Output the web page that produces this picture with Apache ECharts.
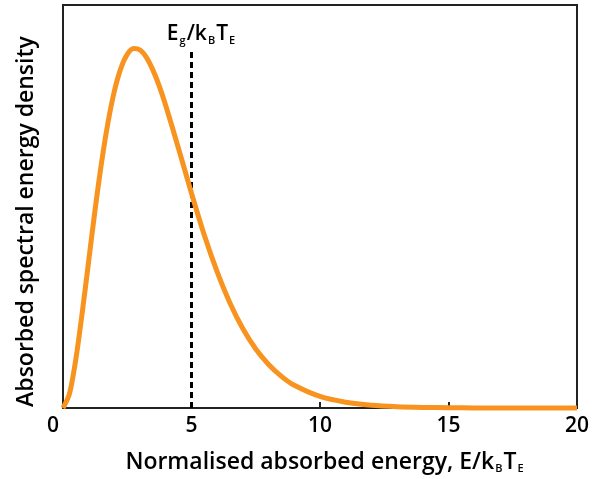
<!DOCTYPE html>
<html>
<head>
<meta charset="utf-8">
<script src="https://cdn.jsdelivr.net/npm/echarts@6/dist/echarts.min.js"></script>
<style>html,body{margin:0;padding:0;background:#fff}#c{width:592px;height:479px}</style>
</head>
<body>
<div id="c"></div>
<script>
// Normalised absorbed energy E/kBTE (x) and absorbed spectral energy density (relative, peak ≈ 1)
const energy  = [0, 0.25, 0.5, 0.75, 1.0, 1.25, 1.5, 1.75, 2.0, 2.25, 2.5, 2.75, 3.0, 3.25, 3.5, 3.75, 4.0, 4.5, 5.0, 5.5, 6.0, 6.5, 7.0, 7.5, 8.0, 8.5, 9.0, 10, 11, 12, 13, 14, 15, 16, 18, 20];
const density = [0, 0.039, 0.136, 0.266, 0.409, 0.552, 0.682, 0.793, 0.881, 0.944, 0.983, 0.999, 0.995, 0.974, 0.939, 0.894, 0.840, 0.720, 0.597, 0.480, 0.378, 0.291, 0.220, 0.164, 0.121, 0.088, 0.063, 0.032, 0.016, 0.0075, 0.0035, 0.0016, 0.0007, 0.0003, 0.0001, 0];
const xTicks = [0, 5, 10, 15, 20];
const gapEnergy = 5;      // Eg/kBTE marker position
const gapMarkerTop = 1.0; // top of dashed marker

const FONT = '"Open Sans", "Noto Sans", sans-serif';
function richSub(size) {
  return {
    a: {fontSize: size, fontWeight: 600, fontFamily: FONT, color: '#000', lineHeight: size + 3},
    s: {fontSize: 11, fontWeight: 600, fontFamily: FONT, color: '#000', lineHeight: 11, padding: [13, 1, 0, 1]}
  };
}

const chart = echarts.init(document.getElementById('c'), null, {renderer: 'canvas'});
chart.setOption({
  animation: false,
  backgroundColor: '#fff',
  grid: {left: 63, right: 14, top: 5, bottom: 70, show: true, borderColor: '#222', borderWidth: 2, backgroundColor: 'transparent'},
  xAxis: {
    type: 'value', min: 0, max: 20, interval: 5,
    axisLine: {show: false},
    axisTick: {show: true, inside: true, length: 6, lineStyle: {color: '#222', width: 2}},
    splitLine: {show: false},
    axisLabel: {
      fontSize: 21, fontWeight: 600, fontFamily: FONT, color: '#000', margin: 8,
      formatter: v => xTicks.includes(v) ? (v === 0 ? '{z|0}' : String(v)) : '',
      rich: {z: {fontSize: 21, fontWeight: 600, fontFamily: FONT, color: '#000', padding: [0, 20, 0, 0]}}
    },
    name: '{a|Normalised absorbed energy, E/k}{s|B}{a|T}{s|E}',
    nameLocation: 'middle', nameGap: 41,
    nameTextStyle: {rich: richSub(23), padding: [0, 0, 0, 10]}
  },
  yAxis: {
    type: 'value', min: 0, max: 1.12,
    axisLine: {show: false}, axisTick: {show: false}, axisLabel: {show: false}, splitLine: {show: false},
    name: 'Absorbed spectral energy density',
    nameLocation: 'middle', nameGap: 25, nameRotate: 90,
    nameTextStyle: {fontSize: 23, fontWeight: 600, fontFamily: FONT, color: '#000', padding: [0, 30, 0, 0]}
  },
  series: [{
    type: 'line', smooth: 0.3, showSymbol: false, clip: false,
    data: energy.map((e, i) => [e, density[i]]),
    lineStyle: {color: '#F7931E', width: 5},
    z: 3,
    markLine: {
      silent: true, symbol: 'none', z: 2,
      lineStyle: {color: '#000', type: [6, 4], width: 3},
      label: {
        show: true, position: 'end', distance: 2,
        formatter: '{a|E}{s|g}{a|/k}{s|B}{a|T}{s|E}',
        rich: richSub(21), padding: [0, 0, 0, 20]
      },
      data: [[{coord: [gapEnergy, 0]}, {coord: [gapEnergy, gapMarkerTop]}]]
    }
  }]
});
</script>
</body>
</html>
